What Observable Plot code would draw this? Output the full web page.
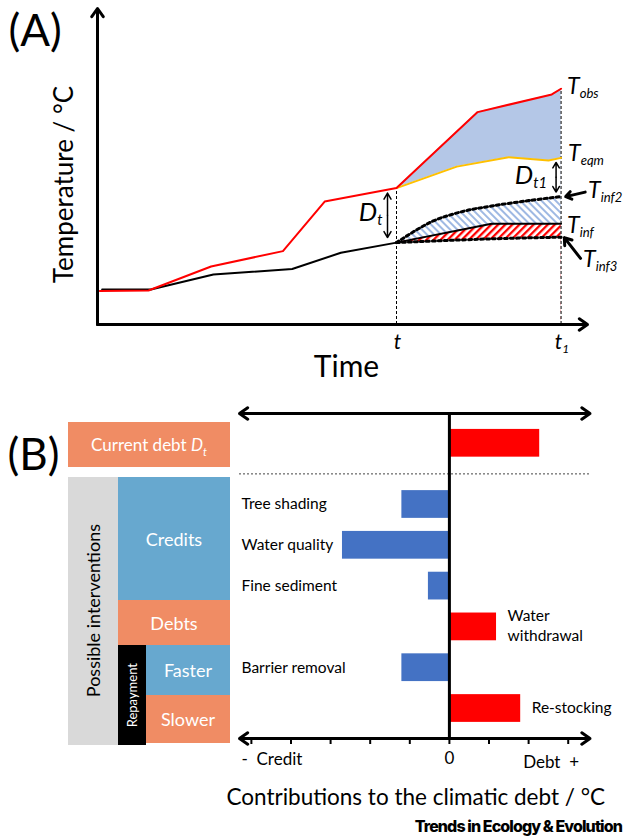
<!DOCTYPE html>
<html><head><meta charset="utf-8">
<script src="https://cdn.jsdelivr.net/npm/d3@7"></script>
<script src="https://cdn.jsdelivr.net/npm/@observablehq/plot@0.6"></script>
<style>
body{margin:0;background:#fff;font-family:Lato,"Open Sans",sans-serif;}
#root{position:relative;width:623px;height:836px;overflow:hidden;background:#fff;}
#root svg{display:block;}
.box{position:absolute;display:flex;align-items:center;justify-content:center;color:#fff;font-size:18px;box-sizing:border-box;font-family:Lato,sans-serif;}
.vert{writing-mode:vertical-rl;transform:rotate(180deg);white-space:nowrap;}
.sub{font-size:11px;font-style:italic;position:relative;top:5px;}
.brand{position:absolute;right:1px;top:816px;font-family:Inter,Roboto,sans-serif;font-weight:800;font-size:16px;letter-spacing:-0.9px;color:#000;white-space:nowrap;}
</style></head>
<body><div id="root"></div>
<script>
// ---------- Panel A data (time, temperature in arbitrary units) ----------
const timeObs = [0.05, 1.1, 2.45, 4.0, 4.9, 6.45, 8.2, 9.8, 10];
const tempObs = [1.42, 1.44, 2.46, 3.11, 5.21, 5.78, 9.0, 9.75, 9.99];
const timeInf = [0.1, 1.15, 2.5, 4.2, 5.25, 6.45, 8.5, 10];
const tempInf = [1.48, 1.48, 2.12, 2.35, 3.04, 3.47, 4.27, 4.27];
const timeEqm = [6.45, 7.75, 8.87, 9.73, 10];
const tempEqm = [5.78, 6.69, 7.09, 6.95, 7.06];
const timeInf2 = [6.45, 7.2, 7.9, 8.5, 9.3, 10];
const tempInf2 = [3.47, 4.35, 4.8, 5.02, 5.25, 5.42];
const timeInf3 = [6.45, 8.5, 10];
const tempInf3 = [3.47, 3.63, 3.70];
const timeMarks = [6.45, 10];
const timeMarkLabels = ["t", "t_1"];
const seriesLabels = ["T_obs", "T_eqm", "T_inf2", "T_inf", "T_inf3"];
const debtLabels = ["D_t", "D_t1"];

// ---------- Panel B data ----------
const items = ["Current debt", "Tree shading", "Water quality", "Fine sediment", "Water withdrawal", "Barrier removal", "Re-stocking"];
const contributions = [2.28, -1.2, -2.7, -0.53, 1.19, -1.2, 1.8];
const axisTicks = [-5, -4, -3, -2, -1, 0, 1, 2, 3];
const axisEndLabels = ["-  Credit", "0", "Debt  +"];
const xTitleB = "Contributions to the climatic debt / \u00b0C";

const RED = "#ff0000", BLUE_BAR = "#4472c4", ORANGE = "#ffc000", BLUE_FILL = "#b4c7e7";

const zip = (xs, ys) => xs.map((x, i) => ({x, y: ys[i]}));
const obs = zip(timeObs, tempObs), inf = zip(timeInf, tempInf), eqm = zip(timeEqm, tempEqm);
const inf2 = zip(timeInf2, tempInf2), inf3 = zip(timeInf3, tempInf3);
const [tNow, t1] = timeMarks;
const atTime = (s, t) => s.find(d => d.x === t).y;
const xMaxA = 10.57, yMaxA = 13.39;
const lastOf = s => s[s.length - 1];
const DOT = "3,3";

function subscripts(svg) {
  d3.select(svg).selectAll("text, tspan").each(function () {
    if (this.childElementCount) return;
    const s = this.textContent; const k = s.indexOf("_");
    if (k < 0) return;
    this.textContent = "";
    const sel = d3.select(this);
    sel.append("tspan").text(s.slice(0, k));
    sel.append("tspan").attr("dy", "0.32em").style("font-size", "57%").text(s.slice(k + 1));
  });
}

// label placement (pixel offsets from series ends)
const endSeries = [obs, eqm, inf2, inf, inf3];
const endOffsets = [[6, -2], [7, -4], [27, -6], [6, 2], [22, 22]];
const M = "middle";

const marksA = [
  Plot.areaY(obs.filter(d => d.x >= tNow), {x: "x", y: "y", fill: BLUE_FILL}),
  Plot.areaY(eqm, {x: "x", y: "y", fill: "white"}),
  Plot.areaY(inf2, {x: "x", y: "y", fill: "url(#hatchBlue)", curve: "catmull-rom"}),
  Plot.areaY(inf.filter(d => d.x >= tNow), {x: "x", y: "y", fill: "url(#hatchRed)"}),
  Plot.areaY(inf3, {x: "x", y: "y", fill: "white", curve: "catmull-rom"}),
  Plot.ruleX(timeMarks, {x: d => d, y1: 0, y2: d => atTime(obs, d), stroke: "black", strokeWidth: 1, strokeDasharray: "3,2"}),
  Plot.line(inf, {x: "x", y: "y", stroke: "black", strokeWidth: 2}),
  Plot.line(eqm, {x: "x", y: "y", stroke: ORANGE, strokeWidth: 2}),
  Plot.line(obs, {x: "x", y: "y", stroke: RED, strokeWidth: 2}),
  Plot.line(inf2, {x: "x", y: "y", stroke: "black", strokeWidth: 3, strokeDasharray: DOT, curve: "catmull-rom"}),
  Plot.line(inf3, {x: "x", y: "y", stroke: "black", strokeWidth: 3, strokeDasharray: DOT, curve: "catmull-rom"}),
  Plot.arrow([{x1: 0, y1: 0, x2: 0, y2: yMaxA}, {x1: 0, y1: 0, x2: xMaxA, y2: 0}],
    {x1: "x1", y1: "y1", x2: "x2", y2: "y2", stroke: "black", strokeWidth: 3, headLength: 5, headAngle: 70}),
  ...[atTime(obs, tNow), atTime(inf, tNow)].map(yEnd => Plot.arrow([0], {
    x1: tNow, x2: tNow, y1: (atTime(obs, tNow) + atTime(inf, tNow)) / 2, y2: yEnd,
    insetEnd: 5, dx: -9, stroke: "black", strokeWidth: 1.5, headLength: 7, headAngle: 60})),
  ...[lastOf(eqm).y, lastOf(inf2).y].map(yEnd => Plot.arrow([0], {
    x1: t1, x2: t1, y1: (lastOf(eqm).y + lastOf(inf2).y) / 2, y2: yEnd,
    insetEnd: 4.5, dx: -5, stroke: "black", strokeWidth: 1.5, headLength: 7, headAngle: 60})),
  Plot.arrow([0], {x1: t1 + 0.52, y1: lastOf(inf2).y + 0.19, x2: t1 + 0.1, y2: lastOf(inf2).y, stroke: "black", strokeWidth: 3, headLength: 4, headAngle: 70}),
  Plot.arrow([0], {x1: t1 + 0.42, y1: lastOf(inf3).y - 0.9, x2: t1 + 0.07, y2: lastOf(inf3).y - 0.02, stroke: "black", strokeWidth: 3, headLength: 4, headAngle: 70}),
  ...seriesLabels.map((lab, i) => Plot.text([lab], {
    x: t1, y: lastOf(endSeries[i]).y, text: d => d, textAnchor: "start", lineAnchor: M,
    dx: endOffsets[i][0], dy: endOffsets[i][1], fontSize: 23, fontStyle: "italic", fill: "black"})),
  Plot.text([debtLabels[0]], {x: tNow, y: (atTime(obs, tNow) + atTime(inf, tNow)) / 2, text: d => d,
    textAnchor: "end", lineAnchor: M, dx: -14, dy: -3, fontSize: 26, fontStyle: "italic", fill: "black"}),
  Plot.text([debtLabels[1]], {x: t1, y: (lastOf(eqm).y + lastOf(inf2).y) / 2, text: d => d,
    textAnchor: "end", lineAnchor: M, dx: -14, dy: -2, fontSize: 26, fontStyle: "italic", fill: "black"}),
  Plot.text(timeMarks, {x: d => d, y: 0, text: (d, i) => timeMarkLabels[i], lineAnchor: M, dy: 18, dx: 1, fontSize: 21, fontStyle: "italic", fill: "black"}),
  Plot.text(["Time"], {frameAnchor: "bottom", text: d => d, lineAnchor: M, textAnchor: M, dx: 4, dy: 43, fontSize: 30, fill: "black"}),
  Plot.text(["Temperature / \u00b0C"], {frameAnchor: "left", text: d => d, rotate: -90, textAnchor: M, lineAnchor: M, dx: -33, dy: 18, fontSize: 26, fill: "black"}),
  Plot.text(["(A)"], {frameAnchor: "top-left", text: d => d, dx: -89, dy: 23, fontSize: 44, textAnchor: "start", lineAnchor: M, fill: "black"})
];

const svgA = Plot.plot({
  width: 623, height: 395,
  marginLeft: 97, marginRight: 36, marginTop: 8, marginBottom: 71,
  x: {domain: [0, xMaxA], axis: null},
  y: {domain: [0, yMaxA], axis: null},
  style: {fontFamily: "Lato, sans-serif", background: "white", overflow: "visible"},
  marks: marksA
});
d3.select(svgA).insert("defs", ":first-child").html(`
  <pattern id="hatchBlue" width="5" height="5" patternUnits="userSpaceOnUse" patternTransform="rotate(-45)">
    <rect width="5" height="5" fill="#fff"/><rect width="2" height="5" fill="#9fb9e3"/></pattern>
  <pattern id="hatchRed" width="5" height="5" patternUnits="userSpaceOnUse" patternTransform="rotate(45)">
    <rect width="5" height="5" fill="#fff"/><rect width="2.3" height="5" fill="#ff0000"/></pattern>`);
subscripts(svgA);

// ---------- Panel B ----------
const rows = items.map((name, i) => ({name, value: contributions[i], pos: i === 0 ? 0 : i + 0.5}));
const yDomB = [-0.73, 7.235], xDomB = [-5.3, 3.55];
const sepY = (rows[0].pos + rows[1].pos) / 2;
const half = 0.34;

const svgB = Plot.plot({
  width: 623, height: 441,
  marginLeft: 239, marginRight: 33.5, marginTop: 18, marginBottom: 98,
  x: {domain: xDomB, axis: null},
  y: {domain: yDomB, reverse: true, axis: null},
  color: {type: "identity"},
  style: {fontFamily: "Lato, sans-serif", background: "white", overflow: "visible"},
  marks: [
    Plot.ruleY([sepY], {y: d => d, stroke: "#444", strokeWidth: 1, strokeDasharray: "2,2"}),
    Plot.rect(rows, {x1: 0, x2: "value", y1: d => d.pos - half, y2: d => d.pos + half,
      fill: d => d.value > 0 ? RED : BLUE_BAR}),
    Plot.ruleX([0], {x: d => d, y1: yDomB[0], y2: yDomB[1], stroke: "black", strokeWidth: 3}),
    ...[yDomB[0], yDomB[1]].flatMap(yy => xDomB.map(xe => Plot.arrow([0], {
      x1: 0, x2: xe, y1: yy, y2: yy, stroke: "black", strokeWidth: 3, headLength: 5, headAngle: 70}))),
    Plot.ruleX(axisTicks, {x: d => d, y1: yDomB[1], y2: yDomB[1], insetTop: -1, insetBottom: -6, stroke: "black", strokeWidth: 2}),
    Plot.text(rows.filter((d, i) => i > 0 && d.value < 0), {frameAnchor: "left", y: "pos", text: "name",
      textAnchor: "start", lineAnchor: M, dx: 2, fontSize: 15.5, fill: "black"}),
    Plot.text(rows.filter((d, i) => i > 0 && d.value > 0), {x: "value", y: "pos",
      text: d => d.name.replace(" ", "\n"), textAnchor: "start", lineAnchor: M, dx: 11, dy: -2, lineHeight: 1.3, fontSize: 15.5, fill: "black"}),
    Plot.text([axisEndLabels[0]], {frameAnchor: "bottom-left", text: d => d, textAnchor: "start", lineAnchor: M, dx: 2, dy: 21, fontSize: 17, fill: "black"}),
    Plot.text([0], {x: d => d, frameAnchor: "bottom", text: () => axisEndLabels[1], lineAnchor: M, textAnchor: M, dy: 20, fontSize: 17, fill: "black"}),
    Plot.text([axisEndLabels[2]], {frameAnchor: "bottom-right", text: d => d, textAnchor: "end", lineAnchor: M, dx: -11, dy: 24, fontSize: 17, fill: "black"}),
    Plot.text([xTitleB], {frameAnchor: "bottom", text: d => d, lineAnchor: M, textAnchor: M, dx: 1, dy: 59, fontSize: 22.5, fill: "black"}),
    Plot.text(["(B)"], {frameAnchor: "top-left", text: d => d, textAnchor: "start", lineAnchor: M, dx: -232, dy: 42, fontSize: 44, fill: "black"})
  ]
});

const root = document.getElementById("root");
root.appendChild(svgA);
root.appendChild(svgB);

const SALMON = "#f08c64", SKY = "#67a8cf";
const boxes = [
  {html: '<span>Current debt <i>D</i><span class="sub">t</span></span>', l: 68, t: 422, w: 162, h: 45, bg: SALMON, fs: 17},
  {html: '<span class="vert">Possible interventions</span>', l: 68, t: 477, w: 50, h: 268, bg: "#d9d9d9", color: "#000", fs: 18},
  {html: '<span>Credits</span>', l: 118, t: 477, w: 112, h: 123, bg: SKY, fs: 18},
  {html: '<span>Debts</span>', l: 118, t: 600, w: 112, h: 45, bg: SALMON, fs: 18},
  {html: '<span class="vert">Repayment</span>', l: 118, t: 645, w: 28, h: 100, bg: "#000", fs: 13},
  {html: '<span>Faster</span>', l: 146, t: 645, w: 84, h: 50, bg: SKY, fs: 18},
  {html: '<span>Slower</span>', l: 146, t: 695, w: 84, h: 48, bg: SALMON, fs: 18}
];
for (const b of boxes) {
  const d = document.createElement("div");
  d.className = "box";
  Object.assign(d.style, {left: b.l + "px", top: b.t + "px", width: b.w + "px", height: b.h + "px",
    background: b.bg, fontSize: b.fs + "px", color: b.color || "#fff"});
  d.innerHTML = b.html;
  root.appendChild(d);
}
const brand = document.createElement("div");
brand.className = "brand";
brand.textContent = "Trends in Ecology & Evolution";
root.appendChild(brand);
</script>
</body></html>
